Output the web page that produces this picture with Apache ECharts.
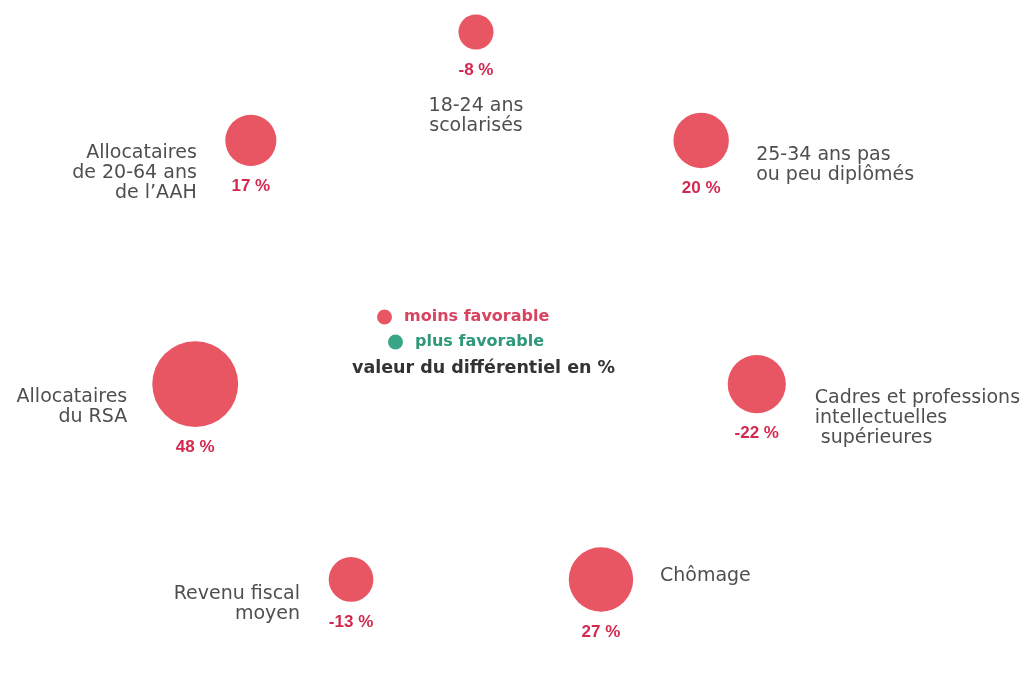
<!DOCTYPE html>
<html>
<head>
<meta charset="utf-8">
<script src="https://cdn.jsdelivr.net/npm/echarts@6/dist/echarts.min.js"></script>
<style>
html,body{margin:0;padding:0;background:#fff;}
#main{width:1031px;height:680px;}
</style>
</head>
<body>
<div id="main"></div>
<script>
// catégories, dans le sens des aiguilles d'une montre depuis le haut
var categories = ['18-24 ans\nscolarisés', '25-34 ans pas\nou peu diplômés', 'Cadres et professions\nintellectuelles\n supérieures', 'Chômage', 'Revenu fiscal\nmoyen', 'Allocataires\ndu RSA', 'Allocataires\nde 20-64 ans\nde l\u2019AAH'];
// valeur du différentiel en %
var values = [-8, 20, -22, 27, -13, 48, 17];
// moins / plus favorable
var statut = ['moins', 'moins', 'moins', 'moins', 'moins', 'moins', 'moins'];

// placement des libellés (style)
var libPos = [
    {align: 'center', offset: [0, 84]},
    {align: 'left', offset: [55, 25]},
    {align: 'left', offset: [58, 34]},
    {align: 'left', offset: [59, -3]},
    {align: 'right', offset: [-51, 25]},
    {align: 'right', offset: [-68, 23]},
    {align: 'right', offset: [-54, 33]}
];

var rouge = '#e85663';
var vert = '#3aa687';

var dataMoins = [], dataPlus = [], dataLib = [];
for (var i = 0; i < categories.length; i++) {
    var pt = [1, i, values[i]];
    if (statut[i] == 'moins') dataMoins.push(pt); else dataPlus.push(pt);
    dataLib.push({
        value: [1, i],
        label: {align: libPos[i].align, offset: libPos[i].offset}
    });
}

function taille(val) {
    return 12.4 * Math.sqrt(Math.abs(val[2]));
}

var valLabel = {
    show: true,
    position: 'bottom',
    distance: 12,
    formatter: function (p) { return p.value[2] + ' %'; },
    color: '#d3284f',
    fontFamily: 'Liberation Sans',
    fontWeight: 'bold',
    fontSize: 17
};

var legTxt = {fontFamily: 'DejaVu Sans', fontWeight: 'bold', fontSize: 16};

var myChart = echarts.init(document.getElementById('main'));
var option = {
    animation: false,
    backgroundColor: '#fff',
    title: {
        text: 'valeur du différentiel en %',
        left: 352,
        top: 359,
        padding: 0,
        textStyle: {fontFamily: 'DejaVu Sans', fontWeight: 'bold', fontSize: 17.5, color: '#333'}
    },
    legend: [{
        data: ['moins favorable'],
        left: 377, top: 309, padding: 0,
        icon: 'circle', itemWidth: 29, itemHeight: 15,
        textStyle: Object.assign({color: '#d8435f'}, legTxt)
    }, {
        data: ['plus favorable'],
        left: 388, top: 334, padding: 0,
        icon: 'circle', itemWidth: 29, itemHeight: 15,
        textStyle: Object.assign({color: '#2f9878'}, legTxt)
    }],
    polar: {center: [476, 320], radius: 288},
    radiusAxis: {min: 0, max: 1, axisLine: {show: false}, axisTick: {show: false}, axisLabel: {show: false}, splitLine: {show: false}},
    angleAxis: {
        type: 'category', data: categories, startAngle: 90 + 180 / 7, clockwise: true,
        axisLine: {show: false}, axisTick: {show: false}, axisLabel: {show: false}, splitLine: {show: false}
    },
    series: [{
        name: 'moins favorable', type: 'scatter', coordinateSystem: 'polar',
        symbolSize: taille, itemStyle: {color: rouge, opacity: 1},
        label: valLabel, data: dataMoins
    }, {
        name: 'plus favorable', type: 'scatter', coordinateSystem: 'polar',
        symbolSize: taille, itemStyle: {color: vert, opacity: 1},
        label: valLabel, data: dataPlus
    }, {
        name: 'libellés', type: 'scatter', coordinateSystem: 'polar',
        symbolSize: 0, silent: true,
        label: {
            show: true, position: 'inside', verticalAlign: 'middle',
            formatter: function (p) { return categories[p.value[1]]; },
            fontFamily: 'DejaVu Sans', fontSize: 19, lineHeight: 20, color: '#222'
        },
        data: dataLib
    }]
};
myChart.setOption(option);
</script>
</body>
</html>
